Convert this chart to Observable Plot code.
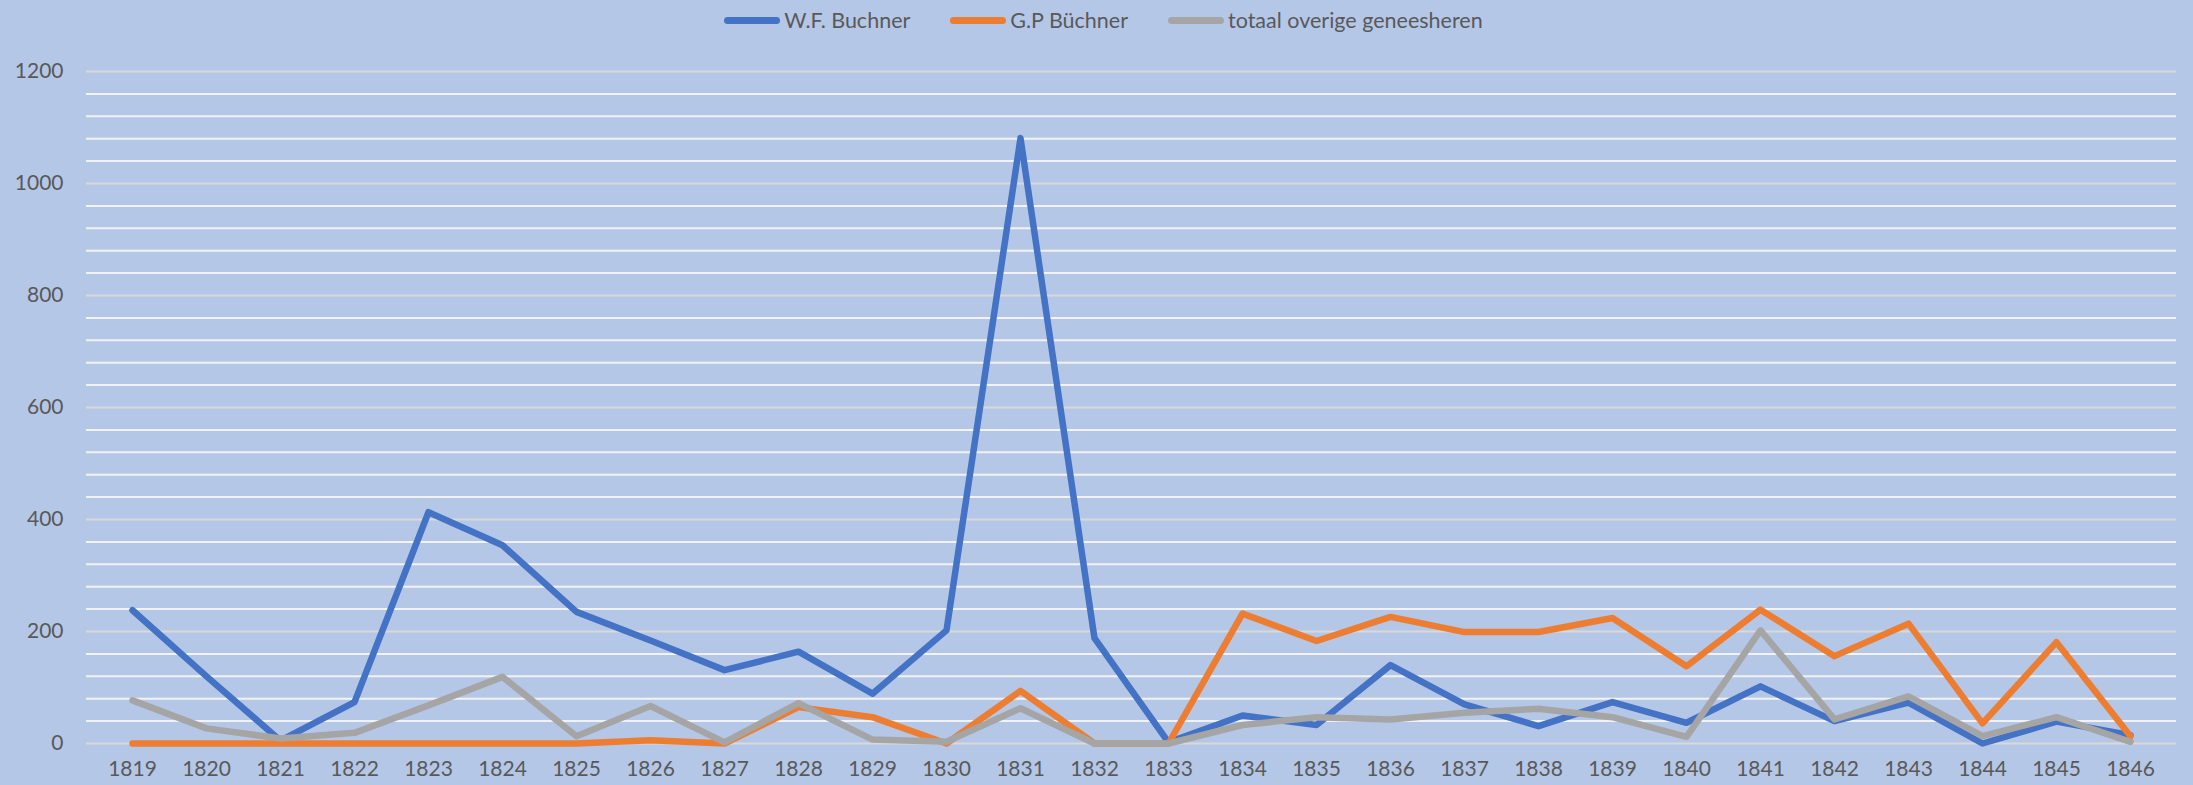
<!DOCTYPE html>
<html>
<head>
<meta charset="utf-8">
<script src="https://cdn.jsdelivr.net/npm/d3@7"></script>
<script src="https://cdn.jsdelivr.net/npm/@observablehq/plot@0.6"></script>
<style>
  html, body { margin: 0; padding: 0; background: #B4C7E7; }
  body { width: 2193px; height: 785px; overflow: hidden; font-family: Lato, "Open Sans", sans-serif; }
  #legend { height: 40px; display: flex; justify-content: center; align-items: center; padding-left: 14px; box-sizing: border-box; }
  .item { display: flex; align-items: center; margin: 0 20px; color: #595959; font-size: 21.5px; }
  .sw { width: 56px; height: 7px; border-radius: 4px; margin-right: 4px; }
  #chart svg { display: block; }
</style>
</head>
<body>
<div id="legend"></div>
<div id="chart"></div>
<script>
const years = [1819,1820,1821,1822,1823,1824,1825,1826,1827,1828,1829,1830,1831,1832,1833,1834,1835,1836,1837,1838,1839,1840,1841,1842,1843,1844,1845,1846];
const wfBuchner = [238,120,5,74,413,354,235,184,131,164,89,202,1081,188,2,50,33,140,70,31,74,37,102,40,73,0,39,15];
const gpBuchner = [0,0,0,0,0,0,0,6,0,65,47,0,94,0,0,232,183,226,199,199,224,138,239,156,214,36,181,13];
const overige = [77,27,9,19,68,119,13,67,2,72,7,3,63,0,0,33,47,43,55,62,47,12,202,43,84,13,47,3];
const seriesNames = ["W.F. Buchner", "G.P Büchner", "totaal overige geneesheren"];
const seriesColors = ["#4472C4", "#ED7D31", "#A5A5A5"];
const yTickValues = [0,200,400,600,800,1000,1200];
const gridValues = d3.range(0, 1201, 40);

const seriesValues = [wfBuchner, gpBuchner, overige];
const data = seriesValues.map((vals, i) => years.map((yr, j) => ({year: yr, value: vals[j], series: seriesNames[i]})));

// legend
const legend = document.getElementById("legend");
seriesNames.forEach((name, i) => {
  const it = document.createElement("div");
  it.className = "item";
  const sw = document.createElement("div");
  sw.className = "sw";
  sw.style.background = seriesColors[i];
  const tx = document.createElement("span");
  tx.textContent = name;
  it.appendChild(sw); it.appendChild(tx);
  legend.appendChild(it);
});

const chart = Plot.plot({
  width: 2193,
  height: 745,
  marginLeft: 86,
  marginRight: 17,
  marginTop: 31,
  marginBottom: 42,
  style: { background: "#B4C7E7", fontFamily: "Lato, 'Open Sans', sans-serif", fontSize: "21px", color: "#595959" },
  x: { type: "point", domain: years, padding: 0.5, label: null },
  y: { domain: [0, 1200], label: null },
  marks: [
    Plot.ruleY(gridValues.filter(v => v % 200 !== 0), { stroke: "#F2F2F2", strokeWidth: 2 }),
    Plot.ruleY(gridValues.filter(v => v % 200 === 0), { stroke: "#D9D9D9", strokeWidth: 2 }),
    Plot.axisY({ ticks: yTickValues, tickSize: 0, tickPadding: 23, tickFormat: d => String(d), fill: "#595959", label: null }),
    Plot.axisX({ tickSize: 0, tickPadding: 18, tickFormat: d => String(d), fill: "#595959", label: null }),
    ...data.map((d, i) => Plot.line(d, { x: "year", y: "value", stroke: seriesColors[i], strokeWidth: 6.5, strokeLinejoin: "round", strokeLinecap: "round" }))
  ]
});
document.getElementById("chart").appendChild(chart);
</script>
</body>
</html>
